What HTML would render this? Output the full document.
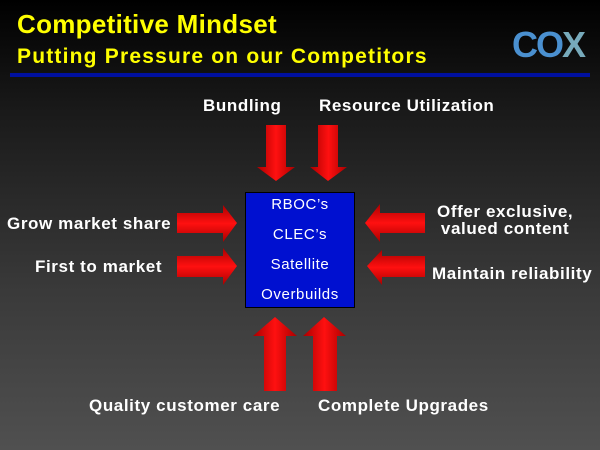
<!DOCTYPE html><html><head><style>
body{margin:0;width:600px;height:450px;overflow:hidden;background:linear-gradient(#000 0%,#1a1a1a 25%,#3a3a3a 65%,#505050 100%);font-family:"Liberation Sans",sans-serif;position:relative}
.t{position:absolute;color:#fff;font-weight:bold;font-size:17px;letter-spacing:0.6px;white-space:nowrap}
</style></head><body>
<div style="position:absolute;left:17px;top:9px;color:#ff0;font-weight:bold;font-size:26px;letter-spacing:0.3px">Competitive Mindset</div>
<div style="position:absolute;left:17px;top:45px;color:#ff0;font-weight:bold;font-size:21px;letter-spacing:1.2px">Putting Pressure on our Competitors</div>
<div style="position:absolute;left:512px;top:24px;color:#4a90d0;font-weight:bold;font-size:36px;letter-spacing:-2px">CO<span style="color:#7ab">X</span></div>
<div style="position:absolute;left:10px;top:73px;width:580px;height:4px;background:#0010a0"></div>
<svg width="600" height="450" style="position:absolute;left:0;top:0">
<defs>
<linearGradient id="v" x1="0" x2="1"><stop offset="0" stop-color="#a00"/><stop offset=".5" stop-color="#ff1010"/><stop offset="1" stop-color="#a00"/></linearGradient>
<linearGradient id="h" x1="0" x2="0" y1="0" y2="1"><stop offset="0" stop-color="#a00"/><stop offset=".5" stop-color="#ff1010"/><stop offset="1" stop-color="#a00"/></linearGradient>
</defs>
<polygon fill="url(#v)" points="266,125 286,125 286,167 295,167 276,181 257,167 266,167"/>
<polygon fill="url(#v)" points="318,125 338,125 338,167 347,167 328,181 310,167 318,167"/>
<polygon fill="url(#h)" points="177,213 223,213 223,205 237,223 223,242 223,233 177,233"/>
<polygon fill="url(#h)" points="177,256 223,256 223,248 237,266 223,285 223,277 177,277"/>
<polygon fill="url(#h)" points="425,213 380,213 380,204 365,223 380,242 380,233 425,233"/>
<polygon fill="url(#h)" points="425,256 382,256 382,250 367,266 382,285 382,277 425,277"/>
<polygon fill="url(#v)" points="264,391 286,391 286,336 297,336 275,317 253,336 264,336"/>
<polygon fill="url(#v)" points="313,391 337,391 337,336 346,336 324,317 303,336 313,336"/>
</svg>
<div style="position:absolute;left:245px;top:192px;width:108px;height:114px;background:#0010d0;border:1px solid #000;color:#fff;font-size:15px;letter-spacing:0.6px;text-align:center">
<div style="position:absolute;top:3px;width:100%">RBOC’s</div>
<div style="position:absolute;top:33px;width:100%">CLEC’s</div>
<div style="position:absolute;top:63px;width:100%">Satellite</div>
<div style="position:absolute;top:93px;width:100%">Overbuilds</div>
</div>
<div class="t" style="left:203px;top:96px">Bundling</div>
<div class="t" style="left:319px;top:96px">Resource Utilization</div>
<div class="t" style="left:7px;top:214px">Grow market share</div>
<div class="t" style="left:35px;top:257px">First to market</div>
<div class="t" style="left:437px;top:203px;text-align:center;line-height:17px">Offer exclusive,<br>valued content</div>
<div class="t" style="left:432px;top:264px">Maintain reliability</div>
<div class="t" style="left:89px;top:396px">Quality customer care</div>
<div class="t" style="left:318px;top:396px">Complete Upgrades</div>
</body></html>
